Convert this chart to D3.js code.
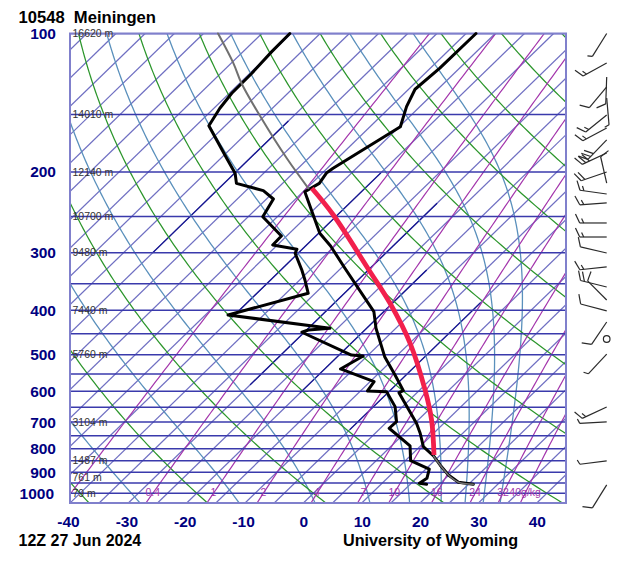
<!DOCTYPE html>
<html><head><meta charset="utf-8">
<script src="https://cdn.jsdelivr.net/npm/d3@7"></script>
<style>html,body{margin:0;padding:0;background:#fff}svg{display:block}text{font-family:"Liberation Sans",Arial,sans-serif}</style>
</head><body><svg id="c" width="627" height="580"></svg>
<script>
// ---- data ----
const stationTitle = "10548  Meiningen";
const timeLabel = "12Z 27 Jun 2024";
const sourceLabel = "University of Wyoming";
const pressureLines = [100,150,200,250,300,350,400,450,500,550,600,650,700,750,800,850,900,950,1000];
const pressureLabels = [100,200,300,400,500,600,700,800,900,1000];
const tempTicks = [-40,-30,-20,-10,0,10,20,30,40];
const heightP = [100,150,200,250,300,400,500,700,850,925,1000];
const heightText = ["16620 m","14010 m","12140 m","10700 m","9480 m","7440 m","5760 m","3104 m","1487 m","761 m","79 m"];
const isotherms = d3.range(-125,46,5);
const darkIsoT = [-70,-45,-30,-20,-5];
const darkIsoTop = [155,201,234,327,385];
const darkIsoBot = [300,411,581,605,727];
const dryThetaC = [-40,-20,0,20,40,60,80,100,120,140,160,180];
const moistBaseT = [33.7,30.8,27.7,23.6,18.2,11.4,2,-11,-28];
const mixRatios = [0.1,0.4,1,2,4,7,10,16,24,32,40];
const mixLabels = ["","0.4","1","2","4","7","10","16","24","32","40g/kg"];

const tempP = [100,118.9,132.2,144.2,159.5,196.4,200.8,211.8,220.9,272,289.9,323.6,402.7,437.7,504.6,553,598.2,604.2,704.2,740.4,791.6,829.7,867.8,912.5,946.4,955.9];
const tempT = [-53.3,-53.4,-53.9,-52.3,-49.8,-54,-54.3,-53.7,-54.7,-44.8,-40.7,-34.4,-21.7,-18.4,-11.9,-6.9,-2.7,-3.1,5.3,7.7,10.6,14,16.7,19.9,22.9,25.8];
const dewP = [100,109.5,122,134.9,145.4,158.7,186.8,201.4,211.8,219.7,229.1,250.3,275.7,288.4,294.6,300.6,326.9,343.7,367.3,409.5,437.7,441.4,446.5,500.4,502.9,536.6,571.9,599,601.2,648,698.6,722.1,788.9,849.4,886.4,927.7,951.2,955.9];
const dewT = [-85.2,-85.1,-84.7,-84.6,-84,-82.8,-74,-69.9,-67.9,-62,-58.8,-57.5,-50.9,-50.8,-45.9,-45.5,-41.4,-39.1,-36.2,-46.1,-26.3,-29.7,-30.4,-17.9,-15.7,-17.3,-9.3,-8.8,-5.4,-1.3,1.6,1.5,8.2,10.9,15.6,16.8,16.4,17.8];
const parcelUpperP = [100,116.1,128.3,152.9,186.8,217.1];
const parcelUpperT = [-97.5,-89.6,-84.7,-75.1,-63.7,-54.7];
const parcelLowerP = [829.7,867.8,912.5,946.4,955.9];
const parcelLowerT = [14,16.7,19.9,22.9,25.8];
const parcelMoistP = [217.1,248.2,326.9,386.2,471.9,596.2,692.7,825.5];
const parcelMoistT = [-54.1,-45.7,-29.9,-20.4,-9.9,0.9,7.3,13.9];

const barbP = [100,115.9,124.3,130.7,138.1,150.4,160.6,170.4,181.9,200.1,211.5,223.4,233.6,258.3,277.1,300.2,321.9,356,379.9,401.3,424.2,498,649,699.7,850.6,959.2];
const barbDir = [212,241,182,220,175,231,242,224,245,251,347,278,266,270,270,283,264,284,315,285,214,223,245,267,263,212];
const barbSpeed = [5,15,10,10,5,15,15,30,30,20,10,15,15,15,15,10,15,20,10,10,10,5,15,5,5,10];
const calmP = [461.8];

// ---- scales ----
const navy = "#000080", horiz = "#3a3aac", frame = "#8080cc";
const isoCol = "#6f6fc2", isoDark = "#14148e", greenCol = "#2c962c", moistCol = "#5a90bc", purpleCol = "#a436ac", redCol = "#f2204c", grayCol = "#707070";
const left = 70, right = 566, top_ = 33.5, bottom = 503, skew = 1.03;
const y = d3.scaleLog().domain([100,1050]).range([top_,bottom]);
const xT = d3.scaleLinear().domain([-40,45]).range([left,right]);
const sx = (T,p) => xT(T) + skew*(bottom - y(p));

const svg = d3.select("#c");
svg.append("defs").append("clipPath").attr("id","plot").append("rect")
  .attr("x",left).attr("y",top_).attr("width",right-left).attr("height",bottom-top_);

const pLevels = d3.range(0,121).map(i => 1050*Math.pow(100/1050,i/120));
const line = d3.line().x(d=>sx(d[1],d[0])).y(d=>y(d[0]));
const smooth = d3.line().x(d=>sx(d[1],d[0])).y(d=>y(d[0])).curve(d3.curveCatmullRom);
const es = T => 6.112*Math.exp(17.67*T/(T+243.5));
const g = svg.append("g").attr("clip-path","url(#plot)").attr("fill","none");

// isotherms
g.append("g").selectAll("path").data(isotherms).join("path")
  .attr("d",T=>line([[1050,T],[100,T]])).attr("stroke",isoCol).attr("stroke-width",1.25);
g.append("g").selectAll("path").data(darkIsoT).join("path")
  .attr("d",(T,i)=>line([[darkIsoBot[i],T],[darkIsoTop[i],T]])).attr("stroke",isoDark).attr("stroke-width",1.25);
// moist adiabats
function moist(T0){
  const out=[]; let T=T0+273.15, p=1050;
  pLevels.forEach(pn=>{
    const steps=6, dl=Math.log(pn/p)/steps;
    for(let k=0;k<steps;k++){
      const e=es(T-273.15), rs=0.622*e/(p-e), L=2.5e6, Rd=287, cp=1004;
      const dT=(Rd*T+L*rs)/(cp+L*L*rs*0.622/(Rd*T*T));
      T+=dT*dl; p*=Math.exp(dl);
    }
    p=pn; out.push([pn,T-273.15]);
  });
  return out;
}
g.append("g").selectAll("path").data(moistBaseT).join("path")
  .attr("d",T=>line(moist(T))).attr("stroke",moistCol).attr("stroke-width",1.3);
// dry adiabats
g.append("g").selectAll("path").data(dryThetaC).join("path")
  .attr("d",th=>line(pLevels.map(p=>[p,(th+273.15)*Math.pow(p/1000,0.286)-273.15])))
  .attr("stroke",greenCol).attr("stroke-width",1.25);
// mixing ratio lines
const mixT=(w,p)=>{const L=Math.log(w*p/(622+w)/6.112);return 243.5*L/(17.67-L);};
g.append("g").selectAll("path").data(mixRatios).join("path")
  .attr("d",w=>line(pLevels.map(p=>[p,mixT(w,p)])))
  .attr("stroke",purpleCol).attr("stroke-width",1.2);
// pressure lines
g.append("g").selectAll("line").data(pressureLines).join("line")
  .attr("x1",left).attr("x2",right).attr("y1",d=>y(d)).attr("y2",d=>y(d))
  .attr("stroke",horiz).attr("stroke-width",1.5);

// frame
svg.append("rect").attr("x",left).attr("y",top_).attr("width",right-left).attr("height",bottom-top_)
  .attr("fill","none").attr("stroke",frame).attr("stroke-width",2);

// height + mixing-ratio labels
svg.append("g").selectAll("text").data(heightP).join("text")
  .attr("x",left+2.5).attr("y",d=>y(d)+3.6).attr("font-size",10.5).attr("fill","#333").text((d,i)=>heightText[i]);
svg.append("g").selectAll("text").data(mixRatios).join("text")
  .attr("x",d=>sx(mixT(d,1000),1000)).attr("y",y(1000)+3).attr("text-anchor","middle")
  .attr("font-size",10.5).attr("fill",purpleCol).text((d,i)=>mixLabels[i]);

// curves
const pts=(P,T)=>P.map((p,i)=>[p,T[i]]);
const cg=svg.append("g").attr("fill","none").attr("stroke-linejoin","round").attr("stroke-linecap","round");
cg.append("path").attr("d",line(pts(dewP,dewT))).attr("stroke","#000").attr("stroke-width",3);
cg.append("path").attr("d",line(pts(tempP,tempT))).attr("stroke","#000").attr("stroke-width",3);
cg.append("path").attr("d",smooth(pts(parcelUpperP,parcelUpperT))).attr("stroke",grayCol).attr("stroke-width",2);
cg.append("path").attr("d",smooth(pts(parcelLowerP,parcelLowerT))).attr("stroke",grayCol).attr("stroke-width",1.6);
cg.append("path").attr("d",smooth(pts(parcelMoistP,parcelMoistT))).attr("stroke",redCol).attr("stroke-width",4.8).attr("stroke-linecap","butt");

// axes
const yAxis=d3.axisLeft(y).tickValues(pressureLabels).tickFormat(d3.format("d")).tickSize(0).tickPadding(14);
const ya=svg.append("g").attr("transform",`translate(${left},0)`).call(yAxis);
const xAxis=d3.axisBottom(xT).tickValues(tempTicks).tickFormat(d=>String(d)).tickSize(0).tickPadding(13);
const xa=svg.append("g").attr("transform",`translate(0,${bottom})`).call(xAxis);
[ya,xa].forEach(a=>{a.select(".domain").remove();a.selectAll("text").attr("font-family",'"Liberation Sans",Arial,sans-serif').attr("font-size",15.5).attr("font-weight","bold").attr("fill",navy);});
xa.selectAll("text").attr("dx",d=>d<0?-2:0);
ya.selectAll("text").attr("dx",d=>d>=1000?-2:0);

// titles
const bold=(x,yy,t,fs)=>svg.append("text").attr("x",x).attr("y",yy).attr("font-size",fs).attr("font-weight","bold").attr("fill","#000").style("white-space","pre").text(t);
bold(18.5,23,stationTitle,16.6);
bold(18.5,545.5,timeLabel,16);
bold(343,545.5,sourceLabel,16.2);

// wind barbs
const bx=606.7, staff=27, rot=65*Math.PI/180;
const bg=svg.append("g").attr("stroke","#2a2a2a").attr("stroke-width",1.2).attr("fill","none");
barbP.forEach((p,i)=>{
  const a=barbDir[i]*Math.PI/180, ux=Math.sin(a), uy=-Math.cos(a), y0=y(p);
  const ex=bx+ux*staff, ey=y0+uy*staff;
  bg.append("line").attr("x1",bx).attr("y1",y0).attr("x2",ex).attr("y2",ey);
  const rx=Math.cos(rot)*ux-Math.sin(rot)*uy, ry=Math.sin(rot)*ux+Math.cos(rot)*uy;
  let s=barbSpeed[i], d=0;
  while(s>=10){bg.append("line").attr("x1",ex-ux*d).attr("y1",ey-uy*d).attr("x2",ex-ux*d+rx*10).attr("y2",ey-uy*d+ry*10);s-=10;d+=4;}
  if(s>=5){bg.append("line").attr("x1",ex-ux*d).attr("y1",ey-uy*d).attr("x2",ex-ux*d+rx*5).attr("y2",ey-uy*d+ry*5);}
});
bg.selectAll("circle").data(calmP).join("circle").attr("cx",bx).attr("cy",d=>y(d)).attr("r",3.3);
</script></body></html>
